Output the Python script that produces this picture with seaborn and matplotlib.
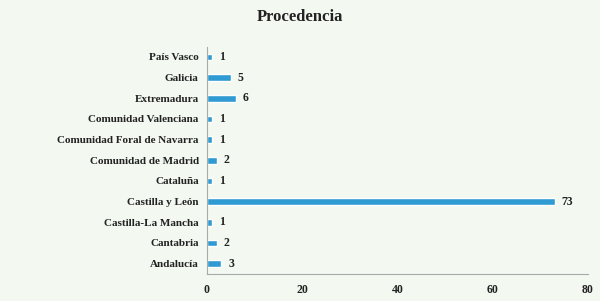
import pandas as pd
import matplotlib.pyplot as plt
import seaborn as sns

# data, top to bottom
regions = ['País Vasco', 'Galicia', 'Extremadura', 'Comunidad Valenciana',
           'Comunidad Foral de Navarra', 'Comunidad de Madrid', 'Cataluña',
           'Castilla y León', 'Castilla-La Mancha', 'Cantabria', 'Andalucía']
counts = [1, 5, 6, 1, 1, 2, 1, 73, 1, 2, 3]
x_ticks = [0, 20, 40, 60, 80]

df = pd.DataFrame({'region': regions, 'count': counts})

sns.set_style('white')
plt.rcParams['font.family'] = ['Liberation Serif', 'DejaVu Serif']

bg = '#f3f8f1'
fig = plt.figure(figsize=(6, 3.01), dpi=100, facecolor=bg)
ax = fig.add_axes([0.345, 0.09, 0.635, 0.755])
ax.set_facecolor(bg)

sns.barplot(data=df, x='count', y='region', orient='h', color='#2f9bd2',
            width=0.32, saturation=1, ax=ax)

for i, v in enumerate(counts):
    ax.text(v + 1.5, i, str(v), va='center', ha='left', fontsize=8.5,
            fontweight='bold', color='#222222')

ax.set_xlim(0, 80)
ax.set_xticks(x_ticks)
ax.set_xlabel('')
ax.set_ylabel('')
ax.tick_params(axis='x', labelsize=8.5, length=3, color='#aaaaaa', pad=4)
ax.tick_params(axis='y', labelsize=8, length=3, color='#aaaaaa', pad=3)
for lab in ax.get_xticklabels() + ax.get_yticklabels():
    lab.set_fontweight('bold')
    lab.set_color('#222222')

for side in ['top', 'right']:
    ax.spines[side].set_visible(False)
for side in ['left', 'bottom']:
    ax.spines[side].set_color('#aaaaaa')
    ax.spines[side].set_linewidth(0.8)

fig.suptitle('Procedencia', x=0.5, y=0.97, fontsize=12, fontweight='bold',
             color='#222222')

fig.savefig('out.png', dpi=100, facecolor=bg)
